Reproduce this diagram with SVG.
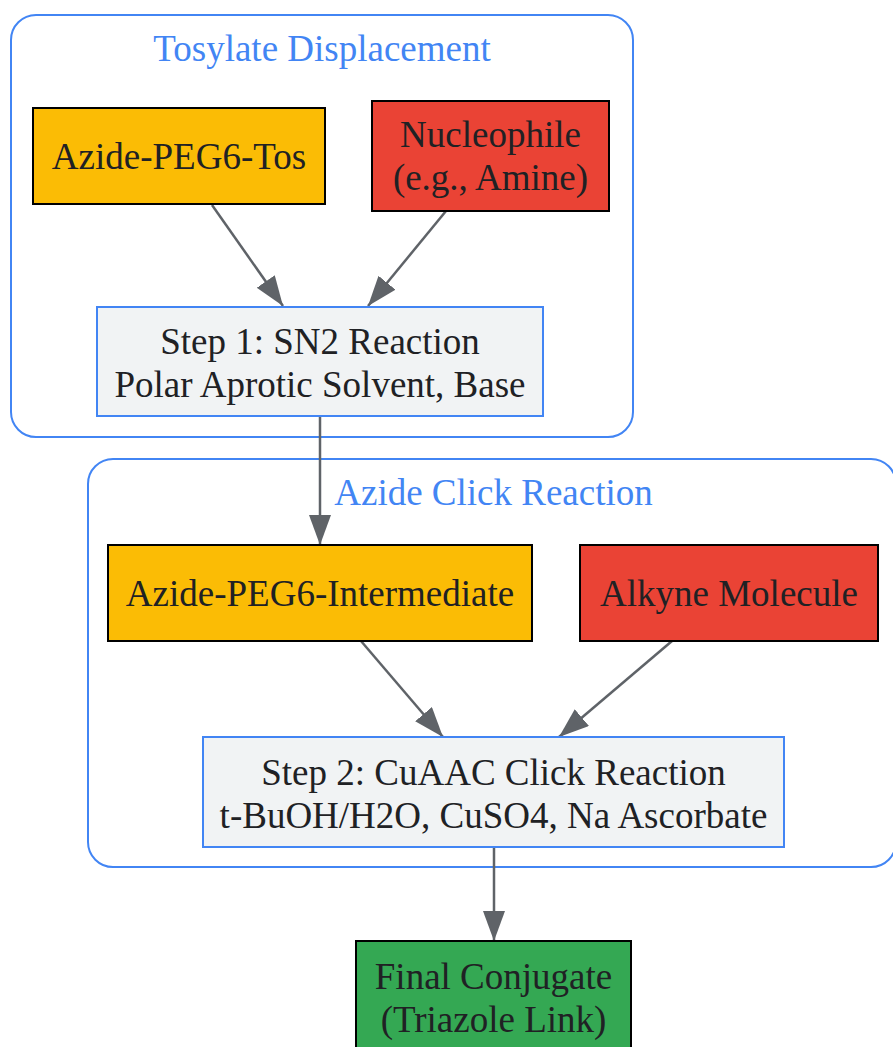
<svg xmlns="http://www.w3.org/2000/svg" width="893" height="1047" viewBox="0 0 893 1047">
<style>
.cl{fill:none;stroke:#4285F4;stroke-width:2}
.ct{font-family:"Liberation Serif","Times New Roman",serif;font-size:37px;fill:#4285F4;text-anchor:middle}
.t{font-family:"Liberation Serif","Times New Roman",serif;font-size:37px;fill:#202124;text-anchor:middle}
.y{fill:#FBBC05;stroke:#000;stroke-width:2}
.r{fill:#EA4335;stroke:#000;stroke-width:2}
.g{fill:#34A853;stroke:#000;stroke-width:2}
.s{fill:#F1F3F4;stroke:#4285F4;stroke-width:2}
.e{fill:none;stroke:#5F6368;stroke-width:2.5;marker-end:url(#ah)}
</style>
<defs>
<marker id="ah" markerUnits="userSpaceOnUse" markerWidth="32" markerHeight="24" refX="30" refY="11" orient="auto">
<path d="M0,0 L30,11 L0,22 z" fill="#5F6368"/>
</marker>
</defs>
<rect width="893" height="1047" fill="#fff"/>
<g id="cluster_tosylate">
<rect class="cl" x="11" y="15" width="622" height="422" rx="25"/>
<text class="ct" x="322" y="61">Tosylate Displacement</text>
</g>
<g id="cluster_click">
<rect class="cl" x="88" y="459" width="808" height="408" rx="25"/>
<text class="ct" x="493.5" y="505">Azide Click Reaction</text>
</g>
<g id="edges">
<line class="e" x1="212" y1="205" x2="283" y2="306"/>
<line class="e" x1="446" y1="211" x2="368" y2="306"/>
<line class="e" x1="320" y1="416" x2="320" y2="545"/>
<line class="e" x1="361" y1="641" x2="443" y2="737"/>
<line class="e" x1="672" y1="641" x2="559" y2="737"/>
<line class="e" x1="494" y1="847" x2="494" y2="941"/>
</g>
<g id="azide_peg6_tos">
<rect class="y" x="33" y="108" width="292" height="96"/>
<text class="t" x="179" y="169">Azide-PEG6-Tos</text>
</g>
<g id="nucleophile">
<rect class="r" x="372" y="101" width="237" height="110"/>
<text class="t" x="490.5" y="147">Nucleophile</text>
<text class="t" x="490.5" y="190">(e.g., Amine)</text>
</g>
<g id="step1">
<rect class="s" x="97" y="307" width="446" height="109"/>
<text class="t" x="320" y="354">Step 1: SN2 Reaction</text>
<text class="t" x="320" y="397">Polar Aprotic Solvent, Base</text>
</g>
<g id="intermediate">
<rect class="y" x="108" y="545" width="424" height="96"/>
<text class="t" x="320" y="606">Azide-PEG6-Intermediate</text>
</g>
<g id="alkyne">
<rect class="r" x="580" y="545" width="298" height="96"/>
<text class="t" x="729" y="606">Alkyne Molecule</text>
</g>
<g id="step2">
<rect class="s" x="203" y="737" width="581" height="110"/>
<text class="t" x="493.5" y="785">Step 2: CuAAC Click Reaction</text>
<text class="t" x="493.5" y="828">t-BuOH/H2O, CuSO4, Na Ascorbate</text>
</g>
<g id="final">
<rect class="g" x="356" y="941" width="275" height="110"/>
<text class="t" x="493.5" y="989">Final Conjugate</text>
<text class="t" x="493.5" y="1032">(Triazole Link)</text>
</g>
</svg>
